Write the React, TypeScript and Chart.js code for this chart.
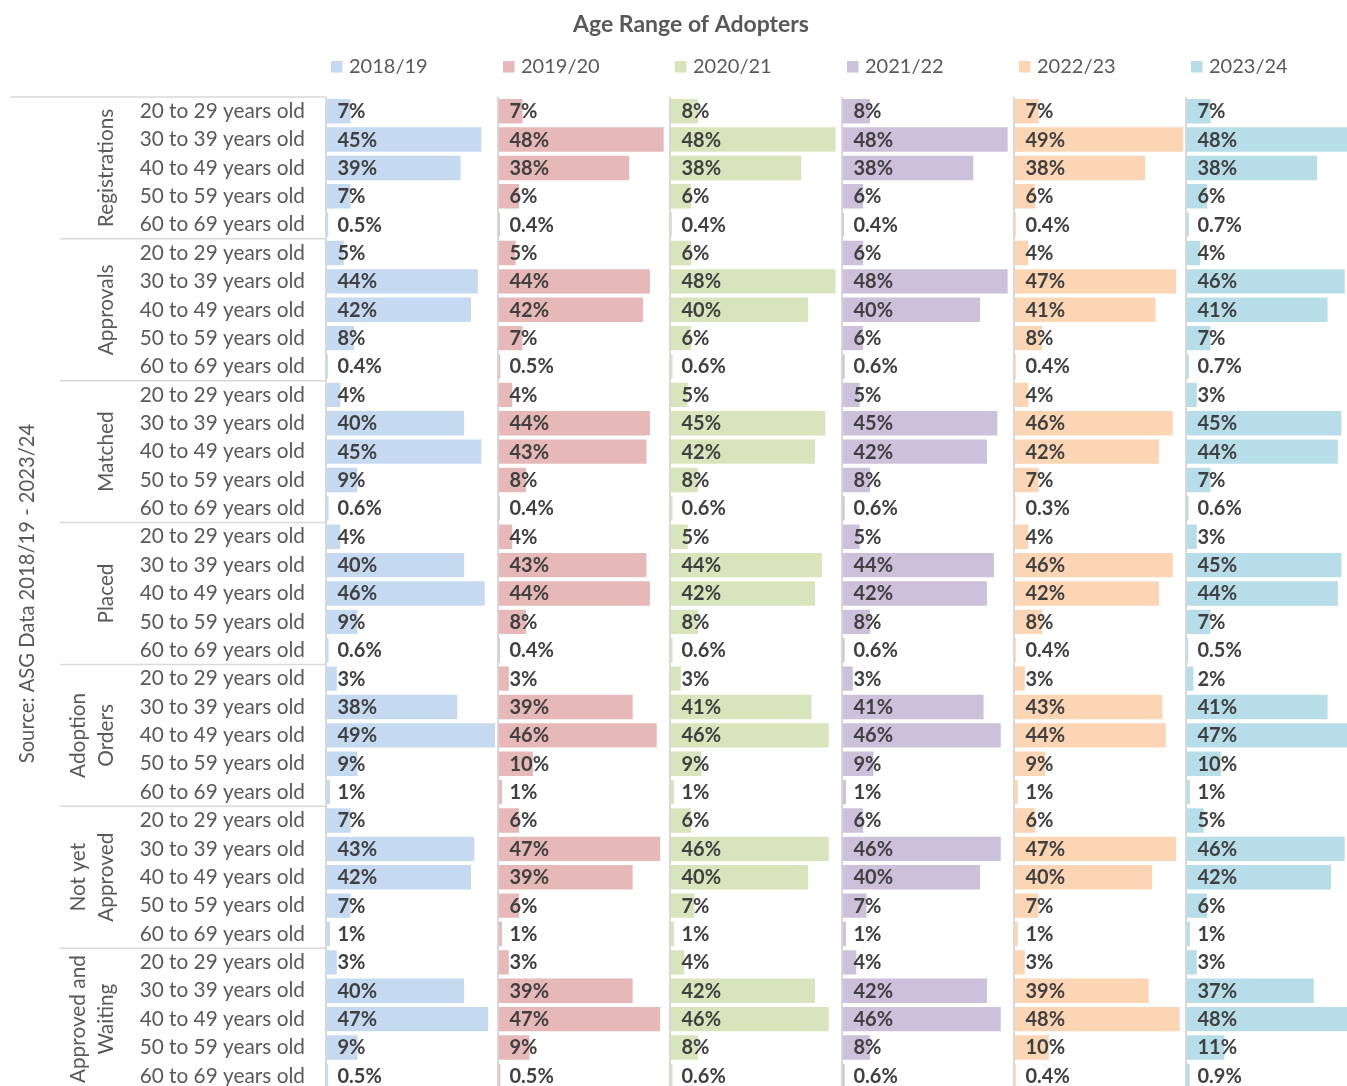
import React, { useEffect, useRef } from "react";
import { Chart, registerables } from "chart.js";

Chart.register(...registerables);

// ---------- data ----------
const TITLE = "Age Range of Adopters";
const SOURCE = "Source: ASG Data 2018/19 - 2023/24";
const YEARS = ["2018/19", "2019/20", "2020/21", "2021/22", "2022/23", "2023/24"];
const GROUPS = [
  ["Registrations"],
  ["Approvals"],
  ["Matched"],
  ["Placed"],
  ["Adoption", "Orders"],
  ["Not yet", "Approved"],
  ["Approved and", "Waiting"],
];
const AGE_BANDS = [
  "20 to 29 years old",
  "30 to 39 years old",
  "40 to 49 years old",
  "50 to 59 years old",
  "60 to 69 years old",
];

// values in %, rows ordered group by group (Registrations, Approvals, Matched, Placed,
// Adoption Orders, Not yet Approved, Approved and Waiting), 5 age bands each
const Y2018_19 = [
  7, 45, 39, 7, 0.5,
  5, 44, 42, 8, 0.4,
  4, 40, 45, 9, 0.6,
  4, 40, 46, 9, 0.6,
  3, 38, 49, 9, 1,
  7, 43, 42, 7, 1,
  3, 40, 47, 9, 0.5,
];
const Y2019_20 = [
  7, 48, 38, 6, 0.4,
  5, 44, 42, 7, 0.5,
  4, 44, 43, 8, 0.4,
  4, 43, 44, 8, 0.4,
  3, 39, 46, 10, 1,
  6, 47, 39, 6, 1,
  3, 39, 47, 9, 0.5,
];
const Y2020_21 = [
  8, 48, 38, 6, 0.4,
  6, 48, 40, 6, 0.6,
  5, 45, 42, 8, 0.6,
  5, 44, 42, 8, 0.6,
  3, 41, 46, 9, 1,
  6, 46, 40, 7, 1,
  4, 42, 46, 8, 0.6,
];
const Y2021_22 = [
  8, 48, 38, 6, 0.4,
  6, 48, 40, 6, 0.6,
  5, 45, 42, 8, 0.6,
  5, 44, 42, 8, 0.6,
  3, 41, 46, 9, 1,
  6, 46, 40, 7, 1,
  4, 42, 46, 8, 0.6,
];
const Y2022_23 = [
  7, 49, 38, 6, 0.4,
  4, 47, 41, 8, 0.4,
  4, 46, 42, 7, 0.3,
  4, 46, 42, 8, 0.4,
  3, 43, 44, 9, 1,
  6, 47, 40, 7, 1,
  3, 39, 48, 10, 0.4,
];
const Y2023_24 = [
  7, 48, 38, 6, 0.7,
  4, 46, 41, 7, 0.7,
  3, 45, 44, 7, 0.6,
  3, 45, 44, 7, 0.5,
  2, 41, 47, 10, 1,
  5, 46, 42, 6, 1,
  3, 37, 48, 11, 0.9,
];
const SERIES = [Y2018_19, Y2019_20, Y2020_21, Y2021_22, Y2022_23, Y2023_24];
const COLORS = ["#C5D9F1", "#E6B8B7", "#D8E4BC", "#CCC0DA", "#FCD5B4", "#B7DEE8"];
const AXIS_MAX = 50;

// ---------- styling ----------
const W = 1382;
const H = 1124;
const FONT = "Lato";
const TEXT_GRAY = "#595959";
const LABEL_DARK = "#404040";
const LINE_GRAY = "#D9D9D9";

const fmt = (v: number) => (v < 1 ? v.toFixed(1) : String(Math.round(v))) + "%";

const decorPlugin = {
  id: "decor",
  beforeDatasetsDraw(chart: any) {
    const { ctx, chartArea } = chart;
    const ys = chart.scales.y;
    ctx.save();
    // panel axis lines
    ctx.strokeStyle = LINE_GRAY;
    ctx.lineWidth = 2;
    YEARS.forEach((_, i) => {
      const s = chart.scales["x" + i];
      const x = s.getPixelForValue(0) - 0.5;
      ctx.beginPath();
      ctx.moveTo(x, chartArea.top);
      ctx.lineTo(x, chartArea.bottom);
      ctx.stroke();
    });
    // group separators
    ctx.lineWidth = 1.5;
    for (let g = 0; g <= GROUPS.length; g++) {
      let yy: number;
      if (g === 0) yy = chartArea.top;
      else if (g === GROUPS.length) yy = chartArea.bottom;
      else yy = (ys.getPixelForValue(g * 5 - 1) + ys.getPixelForValue(g * 5)) / 2;
      ctx.beginPath();
      ctx.moveTo(g === 0 || g === GROUPS.length ? 10 : 60, yy);
      ctx.lineTo(chartArea.left - 1, yy);
      ctx.stroke();
    }
    // group labels (rotated)
    ctx.fillStyle = TEXT_GRAY;
    ctx.font = `normal 20.8px ${FONT}`;
    ctx.textAlign = "center";
    ctx.textBaseline = "middle";
    GROUPS.forEach((lines, g) => {
      const cy = ys.getPixelForValue(g * 5 + 2);
      lines.forEach((line, k) => {
        const x = 106 - 28 * (lines.length - 1 - k);
        ctx.save();
        ctx.translate(x, cy);
        ctx.rotate(-Math.PI / 2);
        ctx.fillText(line, 0, 0);
        ctx.restore();
      });
    });
    // source text
    ctx.font = `normal 20.2px ${FONT}`;
    ctx.save();
    ctx.translate(27, (chartArea.top + chartArea.bottom) / 2);
    ctx.rotate(-Math.PI / 2);
    ctx.fillText(SOURCE, 0, 0);
    ctx.restore();
    ctx.restore();
  },
  afterDatasetsDraw(chart: any) {
    const { ctx } = chart;
    ctx.save();
    // data labels
    ctx.font = `bold 20px ${FONT}`;
    ctx.fillStyle = LABEL_DARK;
    ctx.textAlign = "left";
    ctx.textBaseline = "middle";
    chart.data.datasets.forEach((ds: any, i: number) => {
      const meta = chart.getDatasetMeta(i);
      const x0 = chart.scales["x" + i].getPixelForValue(0);
      meta.data.forEach((el: any, j: number) => {
        ctx.fillText(fmt(ds.data[j]), x0 + 11, el.y + 0.5);
      });
    });
    // legend
    ctx.font = `normal 20px ${FONT}`;
    chart.data.datasets.forEach((ds: any, i: number) => {
      const x0 = chart.scales["x" + i].getPixelForValue(0);
      ctx.fillStyle = ds.backgroundColor;
      ctx.fillRect(x0 + 4.5, 61, 11.5, 11.5);
      ctx.fillStyle = TEXT_GRAY;
      ctx.fillText(ds.label, x0 + 22.5, 67);
    });
    ctx.restore();
  },
};

export default function App() {
  const ref = useRef<HTMLCanvasElement>(null);
  useEffect(() => {
    const labels = GROUPS.flatMap(() => AGE_BANDS);
    const scales: any = {
      y: {
        type: "category",
        position: "left",
        grid: { display: false, drawTicks: false },
        border: { display: false },
        ticks: {
          autoSkip: false,
          padding: 21.5,
          color: TEXT_GRAY,
          font: { family: FONT, size: 20.8 },
        },
        afterFit: (s: any) => {
          s.width = 303;
        },
      },
    };
    YEARS.forEach((_, i) => {
      scales["x" + i] = {
        type: "linear",
        position: "bottom",
        stack: "years",
        stackWeight: 1,
        min: 0,
        max: AXIS_MAX,
        display: false,
        grid: { display: false },
      };
    });
    const chart = new Chart(ref.current as HTMLCanvasElement, {
      type: "bar",
      data: {
        labels,
        datasets: YEARS.map((year, i) => ({
          label: year,
          data: SERIES[i],
          backgroundColor: COLORS[i],
          xAxisID: "x" + i,
          yAxisID: "y",
          grouped: false,
          barPercentage: 0.86,
          categoryPercentage: 1,
        })),
      },
      options: {
        indexAxis: "y",
        responsive: false,
        animation: false,
        layout: { padding: { left: 23.5, right: 23.5, top: 0, bottom: 6 } },
        scales,
        plugins: {
          legend: { display: false },
          tooltip: { enabled: false },
          title: {
            display: true,
            text: TITLE,
            color: TEXT_GRAY,
            font: { family: FONT, size: 23, weight: "bold" },
            padding: { top: 11.2, bottom: 58.2 },
          },
        },
      } as any,
      plugins: [decorPlugin],
    });
    return () => chart.destroy();
  }, []);
  return (
    <div
      style={{
        position: "fixed",
        left: 0,
        top: 0,
        width: 1347,
        height: 1086,
        overflow: "hidden",
        background: "#fff",
      }}
    >
      <canvas ref={ref} width={W} height={H} style={{ position: "absolute", left: 0, top: 0 }} />
    </div>
  );
}
